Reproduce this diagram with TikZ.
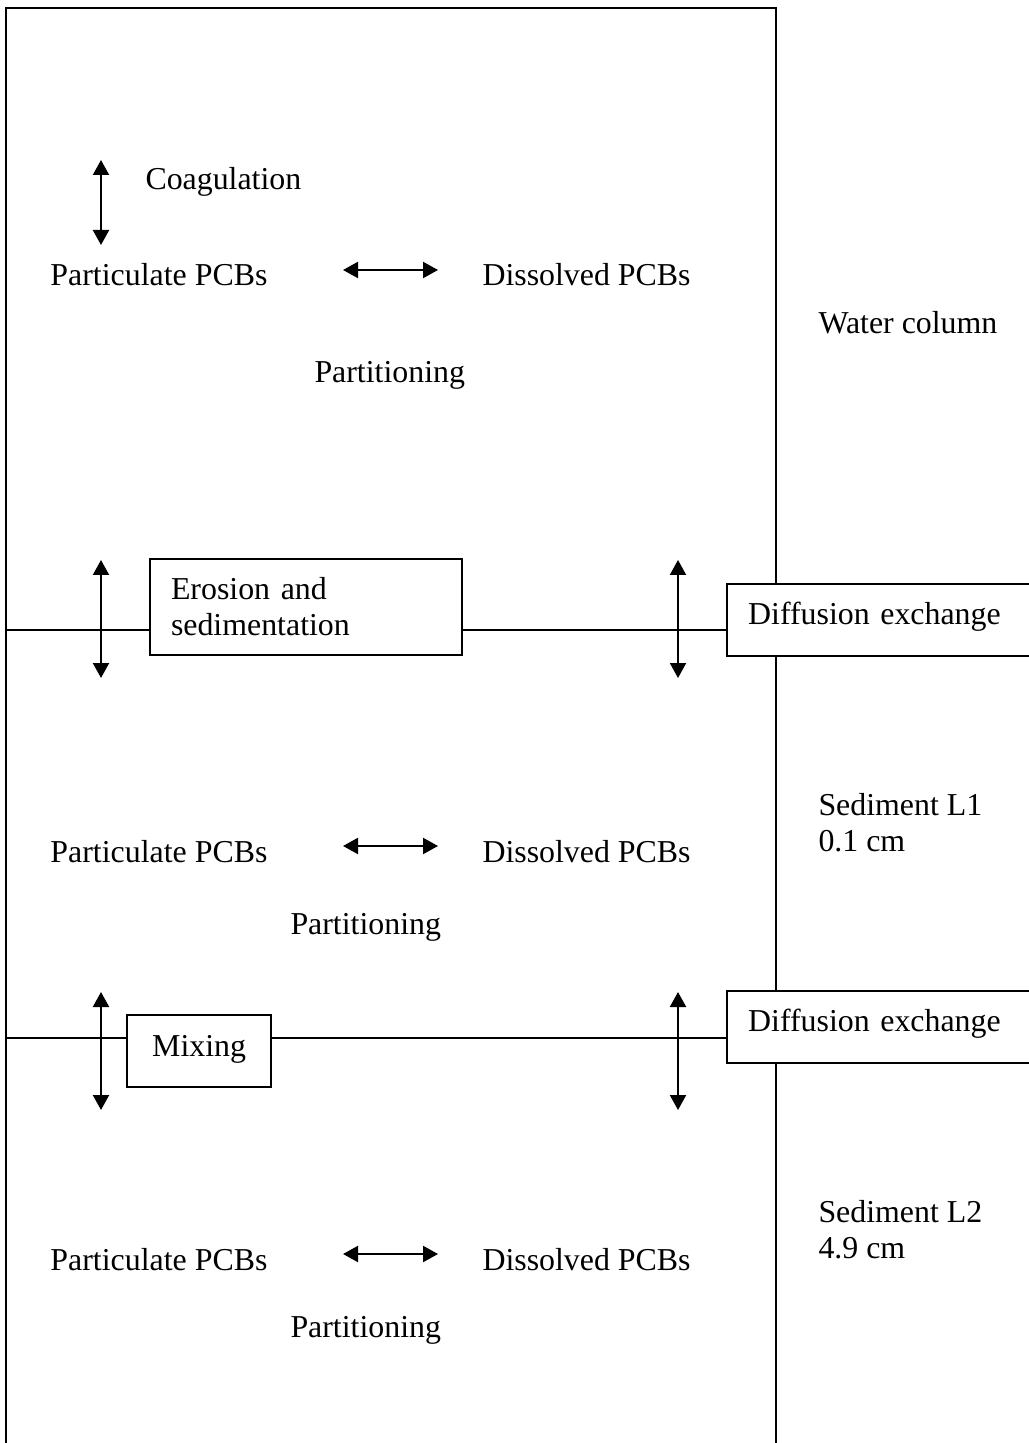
\documentclass[tikz,border=0pt]{standalone}
\usepackage{fontspec}
\setmainfont{Liberation Serif}
\usetikzlibrary{arrows.meta,positioning}
\tikzset{
    block/.style = {draw, rectangle, fill=white, line width=0.9pt,
        inner xsep=8.4pt, inner ysep=0pt, align=left},
    txt/.style = {inner sep=0pt, anchor=base west},
    dbl/.style = {draw, {Triangle[length=6pt,width=6.4pt]}-{Triangle[length=6pt,width=6.4pt]}, line width=0.85pt},
    layer/.style = {draw, line width=0.85pt}
}

\begin{document}
\begin{tikzpicture}[x=0.4pt, y=-0.4pt, font=\fontsize{12.75}{14.4}\selectfont]
        \useasboundingbox (0,0) rectangle (1028,1443);
        % column outline
        \draw [line width=0.95pt] (6,1460) -- (6,8) -- (776,8) -- (776,1460);
        \node [txt] (coag) at (145,190) {Coagulation};
        \coordinate (coagtop) at (101,160);
        \coordinate (coagbot) at (101,245);
        \draw [dbl] (coagtop) -- (coagbot);
        \foreach \i/\y/\px/\py in {1/286/314/383, 2/862/290/934, 3/1270/290/1337}{
            \node [txt] (part\i) at (50,\y) {Particulate PCBs};
            \node [txt] (diss\i) at (482,\y) {Dissolved PCBs};
            \coordinate (pl\i) at (343,\y-16);
            \coordinate (pr\i) at (438,\y-16);
            \draw [dbl] (pl\i) -- (pr\i);
            \node [txt] (prt\i) at (\px,\py) {Partitioning};
        }
        \node [txt] (water) at (818,334) {Water column};
        \node [inner sep=0pt, anchor=north west, align=left] (sed1) at (818,793) {Sediment L1\\0.1 cm};
        \node [inner sep=0pt, anchor=north west, align=left] (sed2) at (818,1200) {Sediment L2\\4.9 cm};
        % water / sediment L1 interface
        \node [block, minimum width=124.8pt, minimum height=38.4pt, text width=108pt] (ero) at (306,607) {Erosion and\\sedimentation};
        \node [block, anchor=north west, text width=108.8pt, text height=16pt, text depth=12.8pt] (diff1) at (726,583) {Diffusion exchange};
        \coordinate (if1) at (6,630);
        \draw [layer] (if1) -- (if1 -| ero.west);
        \draw [layer] (if1 -| ero.east) -- (if1 -| diff1.west);
        \coordinate (a1t) at (101,560);
        \coordinate (a1b) at (101,678);
        \coordinate (b1t) at (678,560);
        \coordinate (b1b) at (678,678);
        \draw [dbl] (a1t) -- (a1b);
        \draw [dbl] (b1t) -- (b1b);
        % sediment L1 / L2 interface
        \node [block, anchor=north west, minimum width=57.6pt, align=center, text height=16.4pt, text depth=12.4pt] (mix) at (126,1014) {Mixing};
        \node [block, anchor=north west, text width=108.8pt, text height=16pt, text depth=12.8pt] (diff2) at (726,990) {Diffusion exchange};
        \coordinate (if2) at (6,1038);
        \draw [layer] (if2) -- (if2 -| mix.west);
        \draw [layer] (if2 -| mix.east) -- (if2 -| diff2.west);
        \coordinate (a2t) at (101,992);
        \coordinate (a2b) at (101,1110);
        \coordinate (b2t) at (678,992);
        \coordinate (b2b) at (678,1110);
        \draw [dbl] (a2t) -- (a2b);
        \draw [dbl] (b2t) -- (b2b);
\end{tikzpicture}
\end{document}
